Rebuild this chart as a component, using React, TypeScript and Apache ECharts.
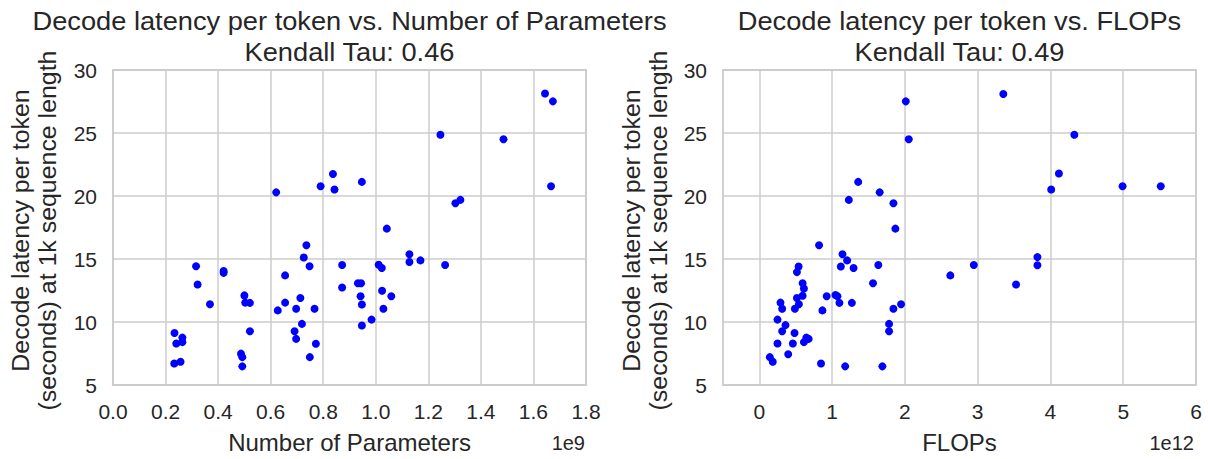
import React, { useEffect, useRef } from "react";
import * as echarts from "echarts";

// Number of parameters (in units of 1e9) and decode latency (s)
const paramsX = [
  0.837, 0.79, 0.843, 0.621, 0.736, 0.726, 0.748, 0.872, 0.316, 0.421, 0.421, 0.655, 0.322, 0.872, 0.5, 0.503,
  0.521, 0.369, 0.713, 0.655, 0.627, 0.697, 0.767, 0.719, 0.521, 0.691, 0.697, 0.772, 0.749, 0.234, 0.264, 0.241,
  0.264, 0.233, 0.257, 0.487, 0.492, 0.492, 1.644, 1.674, 1.246, 1.486, 1.667, 0.947, 1.303, 1.322, 1.042, 1.128,
  1.128, 1.17, 1.264, 1.011, 1.023, 0.932, 0.944, 1.024, 1.059, 0.942, 0.947, 1.029, 0.984, 0.947,
];
const paramsY = [
  21.74, 20.78, 20.52, 20.29, 16.09, 15.12, 14.42, 14.53, 14.42, 14.05, 13.9, 13.7, 12.97, 12.74, 12.11, 11.54,
  11.52, 11.41, 11.91, 11.54, 10.92, 11.05, 11.05, 9.85, 9.26, 9.26, 8.66, 8.27, 7.21, 9.13, 8.76, 8.3,
  8.4, 6.71, 6.84, 7.49, 7.21, 6.48, 28.13, 27.51, 24.86, 24.5, 20.78, 21.12, 19.43, 19.69, 17.41, 15.38,
  14.76, 14.89, 14.53, 14.55, 14.29, 13.07, 13.07, 12.48, 12.04, 12.04, 11.39, 11.05, 10.19, 9.72,
];

// FLOPs (in units of 1e12) and decode latency (s)
const flopsX = [
  2.012, 2.053, 1.358, 1.653, 1.229, 1.842, 1.869, 0.82, 1.142, 1.206, 1.119, 1.294, 1.634, 0.539, 0.516, 2.624,
  1.561, 0.594, 0.612, 0.594, 0.516, 0.925, 1.045, 1.073, 0.29, 0.313, 0.543, 0.488, 0.866, 1.1, 1.271, 1.947,
  1.842, 0.249, 0.359, 0.313, 0.483, 1.782, 1.782, 0.645, 0.612, 0.677, 0.249, 0.46, 0.396, 0.143, 0.184, 0.847,
  1.179, 1.69, 3.352, 4.328, 4.116, 4.01, 4.991, 5.516, 3.821, 3.821, 2.947, 3.527,
];
const flopsY = [
  27.51, 24.5, 21.12, 20.29, 19.69, 19.43, 17.41, 16.09, 15.38, 14.89, 14.4, 14.29, 14.53, 14.4, 13.96, 13.7,
  13.07, 13.07, 12.66, 12.09, 11.91, 12.04, 12.14, 12.04, 11.54, 11.05, 11.41, 11.05, 10.92, 11.52, 11.52, 11.41,
  11.05, 10.19, 9.75, 9.26, 9.13, 9.85, 9.26, 8.76, 8.4, 8.66, 8.3, 8.3, 7.44, 7.21, 6.84, 6.71,
  6.48, 6.48, 28.1, 24.86, 21.78, 20.52, 20.78, 20.78, 15.15, 14.5, 14.53, 12.97,
];

const flopsTicks = [0, 1, 2, 3, 4, 5, 6];

const titleLeft = "Decode latency per token vs. Number of Parameters\nKendall Tau: 0.46";
const titleRight = "Decode latency per token vs. FLOPs\nKendall Tau: 0.49";
const yName = "Decode latency per token\n(seconds) at 1k sequence length";

const FONT = "'Liberation Sans', Arial, sans-serif";
const TXT = "#262626";
const GRIDC = "#cccccc";

export default function App() {
  const ref = useRef<HTMLDivElement>(null);
  useEffect(() => {
    if (!ref.current) return;
    const chart = echarts.init(ref.current, null, { renderer: "svg" });
    const axisCommon = {
      axisLine: { show: false },
      axisTick: { show: false },
      splitLine: { show: true, lineStyle: { color: GRIDC, width: 1.5 } },
    };
    const labelStyle = { color: TXT, fontSize: 21, fontFamily: FONT };
    const yAxisOf = (gi: number) => ({
      type: "value",
      gridIndex: gi,
      min: 5,
      max: 30,
      interval: 5,
      ...axisCommon,
      axisLabel: { ...labelStyle, margin: 16 },
    });
    const nameStyle = { color: TXT, fontSize: 24, fontFamily: FONT };
    const titleText = (text: string, x: number) => ({
      type: "text",
      x,
      y: 6,
      scaleX: 1.09,
      style: {
        text,
        fill: TXT,
        fontSize: 25,
        fontFamily: FONT,
        lineHeight: 31,
        align: "center",
        verticalAlign: "top",
        textAlign: "center",
        textVerticalAlign: "top",
      },
    });
    const yNameText = (x: number) => ({
      type: "text",
      x,
      y: 230.5,
      rotation: Math.PI / 2,
      scaleX: 1.06,
      style: {
        text: yName,
        fill: TXT,
        fontSize: 23.5,
        fontFamily: FONT,
        lineHeight: 27,
        align: "center",
        verticalAlign: "middle",
        textAlign: "center",
        textVerticalAlign: "middle",
      },
    });
    const offsetText = (text: string, x: number) => ({
      type: "text",
      x,
      y: 443,
      style: {
        text,
        fill: TXT,
        fontSize: 20,
        fontFamily: FONT,
        align: "right",
        verticalAlign: "middle",
        textAlign: "right",
        textVerticalAlign: "middle",
      },
    });
    chart.setOption({
      animation: false,
      backgroundColor: "#ffffff",
      grid: [
        { left: 113, right: 622, top: 70, bottom: 68, show: true, borderColor: GRIDC, borderWidth: 1.8, containLabel: false },
        { left: 723, right: 12, top: 70, bottom: 68, show: true, borderColor: GRIDC, borderWidth: 1.8, containLabel: false },
      ],
      xAxis: [
        {
          type: "value",
          gridIndex: 0,
          min: 0,
          max: 1.8,
          interval: 0.2,
          ...axisCommon,
          axisLabel: { ...labelStyle, margin: 16, formatter: (v: number) => v.toFixed(1) },
          name: "Number of Parameters",
          nameLocation: "middle",
          nameGap: 45,
          nameTextStyle: nameStyle,
        },
        {
          type: "value",
          gridIndex: 1,
          min: -0.5,
          max: 6,
          ...axisCommon,
          axisTick: { show: false, customValues: flopsTicks },
          axisLabel: { ...labelStyle, margin: 16, customValues: flopsTicks, formatter: (v: number) => String(Math.round(v)) },
          name: "FLOPs",
          nameLocation: "middle",
          nameGap: 45,
          nameTextStyle: nameStyle,
        },
      ],
      yAxis: [yAxisOf(0), yAxisOf(1)],
      graphic: [
        titleText(titleLeft, 349.5),
        titleText(titleRight, 959.5),
        yNameText(34),
        yNameText(645),
        offsetText("1e9", 585),
        offsetText("1e12", 1194),
      ],
      series: [
        {
          type: "scatter",
          xAxisIndex: 0,
          yAxisIndex: 0,
          symbolSize: 8,
          itemStyle: { color: "#0000ff", opacity: 1 },
          data: paramsX.map((x, i) => [x, paramsY[i]]),
        },
        {
          type: "scatter",
          xAxisIndex: 1,
          yAxisIndex: 1,
          symbolSize: 8,
          itemStyle: { color: "#0000ff", opacity: 1 },
          data: flopsX.map((x, i) => [x, flopsY[i]]),
        },
      ],
    });
    return () => chart.dispose();
  }, []);
  return <div ref={ref} style={{ position: "absolute", left: 0, top: 0, width: 1208, height: 459 }} />;
}
